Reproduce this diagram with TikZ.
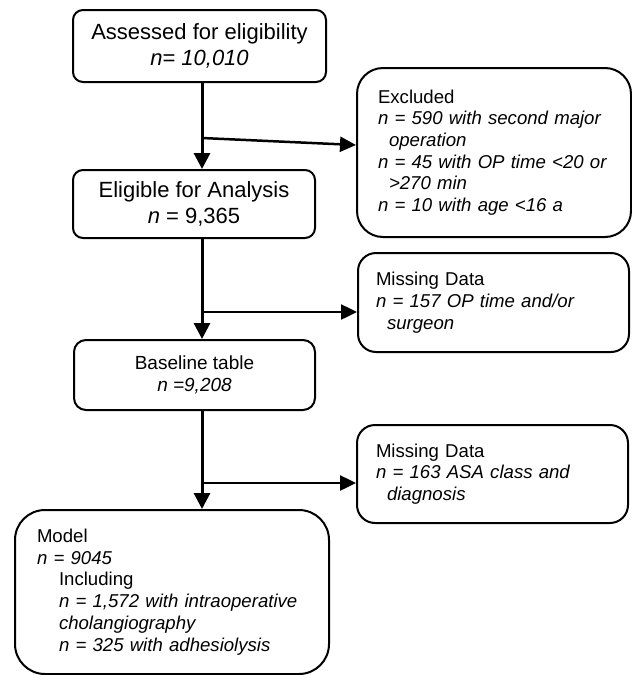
\documentclass[tikz,border=0pt]{standalone}
\usepackage{fontspec}
\setmainfont{Liberation Sans}
\usetikzlibrary{arrows.meta}
\begin{document}
\begin{tikzpicture}[x=1pt,y=-1pt,
  box/.style={draw,line width=2pt,inner sep=0pt,anchor=center},
  bigtxt/.style={font=\fontsize{22}{26.5}\selectfont,align=center},
  smalltxt/.style={font=\fontsize{18.6}{21.7}\selectfont},
  spine/.style={line width=3pt,-{Triangle[length=16pt,width=16pt]}},
  branch/.style={line width=2.5pt,-{Triangle[length=16pt,width=15pt]}}
]
\useasboundingbox (0,0) rectangle (632,675);

% main column
\node[box,rounded corners=10pt,minimum width=253pt,minimum height=72pt,bigtxt] (b1) at (199.5,46)
  {Assessed for eligibility\\\textit{n= 10,010}};
\node[box,rounded corners=10pt,minimum width=242pt,minimum height=68pt,bigtxt] (b2) at (194,204)
  {Eligible for Analysis\\\textit{n} = 9,365};
\node[box,rounded corners=12pt,minimum width=241pt,minimum height=70pt,font=\fontsize{19}{22}\selectfont,align=center] (b3) at (194.5,375)
  {Baseline table\\\textit{n =9,208}};
\node[box,rounded corners=30pt,minimum width=314pt,minimum height=164pt,smalltxt,align=left,text width=270pt] (model) at (172,592)
  {\mbox{Model}\\
   \mbox{\textit{n = 9045}}\\
   \mbox{\hspace*{22pt}Including}\\
   \mbox{\hspace*{22pt}\textit{n = 1,572 with intraoperative}}\\
   \mbox{\hspace*{22pt}\textit{cholangiography}}\\
   \mbox{\hspace*{22pt}\textit{n = 325 with adhesiolysis}}};

% side boxes
\node[box,rounded corners=26pt,minimum width=274pt,minimum height=169pt,smalltxt,align=left,text width=232pt] (excl) at (494,152.5)
  {\mbox{Excluded}\\
   \mbox{\textit{n = 590 with second major}}\\
   \mbox{\hspace*{11pt}\textit{operation}}\\
   \mbox{\textit{n = 45 with OP time <20 or}}\\
   \mbox{\hspace*{11pt}\textit{>270 min}}\\
   \mbox{\textit{n = 10 with age <16 a}}};
\node[box,rounded corners=18pt,minimum width=271pt,minimum height=99pt,smalltxt,align=left,text width=235pt] (m1) at (493.5,302.5)
  {\mbox{Missing Data}\\
   \mbox{\textit{n = 157 OP time and/or}}\\
   \mbox{\hspace*{11pt}\textit{surgeon}}};
\node[box,rounded corners=18pt,minimum width=271pt,minimum height=98pt,smalltxt,align=left,text width=233pt] (m2) at (492.5,474)
  {\mbox{Missing Data}\\
   \mbox{\textit{n = 163 ASA class and}}\\
   \mbox{\hspace*{11pt}\textit{diagnosis}}};

% connectors
\coordinate (sp) at (202,0);
\draw[spine] (b1.south -| sp) -- (b2.north -| sp);
\draw[spine] (b2.south -| sp) -- (b3.north -| sp);
\draw[spine] (b3.south -| sp) -- (model.north -| sp);

\coordinate (j1) at (202,138);
\coordinate (e1) at (357,145);
\coordinate (j2) at (202,312);
\coordinate (j3) at (202,483);
\draw[branch] (j1) -- (excl.west |- e1);
\draw[branch] (j2) -- (j2 -| m1.west);
\draw[branch] (j3) -- (j3 -| m2.west);
\end{tikzpicture}
\end{document}
